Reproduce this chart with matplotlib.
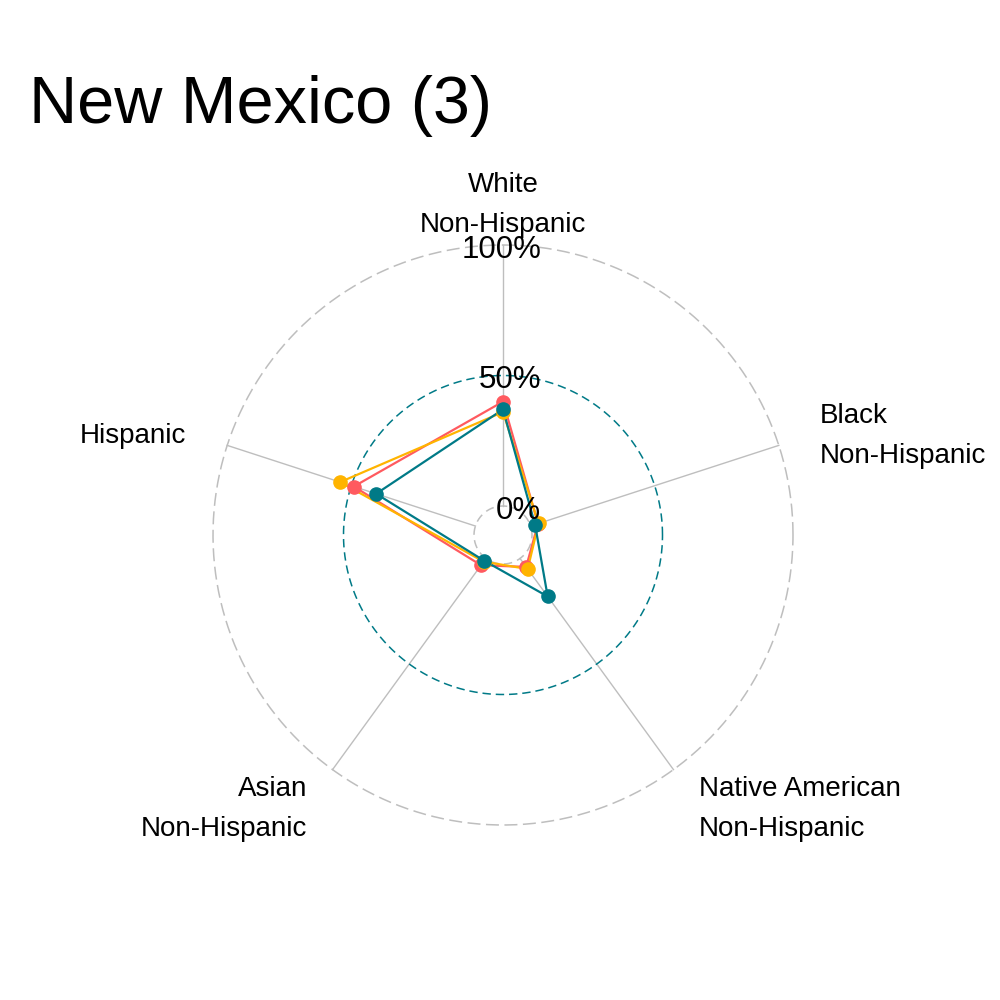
import numpy as np
import matplotlib.pyplot as plt

plt.rcParams['font.family'] = ['Liberation Sans', 'DejaVu Sans']

# axes, clockwise from the top
categories = ["White\nNon-Hispanic", "Black\nNon-Hispanic", "Native American\nNon-Hispanic",
              "Asian\nNon-Hispanic", "Hispanic"]
grid_values = [0.0, 0.5, 1.0]
grid_labels = ["0%", "50%", "100%"]

series_names = ["Group 1", "Group 2", "Group 3"]
series_values = [
    [0.40, 0.03, 0.04, 0.032, 0.49],
    [0.36, 0.032, 0.05, 0.015, 0.545],
    [0.37, 0.018, 0.18, 0.011, 0.40],
]
series_colors = ["#FF5A5F", "#FFB400", "#007A87"]

title = "New Mexico (3)"

# ggradar style: radius offset so that 0% sits on a small inner circle
centre = -1.0 / 9
n = len(categories)
angles = np.pi / 2 - np.arange(n) * 2 * np.pi / n
px = 1 / 261  # one pixel in data units


def to_xy(vals):
    r = np.asarray(vals) - centre
    return r * np.cos(angles), r * np.sin(angles)


fig = plt.figure(figsize=(10, 10), dpi=100)
ax = fig.add_axes([0, 0, 1, 1])
ax.set_xlim(-503 * px, 497 * px)
ax.set_ylim(-465 * px, 535 * px)
ax.set_aspect('equal')
ax.axis('off')

# axis lines
r0, r1 = 0 - centre, 1 - centre
for a in angles:
    ax.plot([r0 * np.cos(a), r1 * np.cos(a)], [r0 * np.sin(a), r1 * np.sin(a)],
            color="#BEBEBE", lw=1.0, zorder=1)

# grid circles
t = np.linspace(0, 2 * np.pi, 400)
grid_styles = [("#BEBEBE", (5.5, 3.5)), ("#007A87", (5.5, 3.2)), ("#BEBEBE", (8.5, 3.6))]
for g, (col, dash) in zip(grid_values, grid_styles):
    r = g - centre
    ax.plot(r * np.cos(t), r * np.sin(t), color=col, lw=1.1, dashes=dash, zorder=1)
for g, lab in zip(grid_values, grid_labels):
    ax.text(0.146, g - centre - 5 * px, lab, ha='right', va='center', fontsize=22.5,
            color='black', zorder=6)

# series
for name, vals, col in zip(series_names, series_values, series_colors):
    x, y = to_xy(vals)
    ax.plot(np.append(x, x[0]), np.append(y, y[0]), color=col, lw=1.6, zorder=3, label=name)
    ax.plot(x, y, 'o', color=col, markersize=9.5, zorder=4)

# axis labels
lab_r = 1.15 * (1 - centre)
for a, lab in zip(angles, categories):
    cx, cy = np.cos(a), np.sin(a)
    if abs(cx) < 0.01:
        ha = 'center'
    elif cx > 0:
        ha = 'left'
    else:
        ha = 'right'
    ax.text(lab_r * cx, lab_r * cy - 4 * px, lab, ha=ha, va='center', fontsize=20,
            linespacing=1.7, multialignment=ha)

fig.text(0.029, 1 - 122.7 / 1000, title, ha='left', va='baseline', fontsize=48)

fig.savefig("out.png", dpi=100, facecolor='white')
